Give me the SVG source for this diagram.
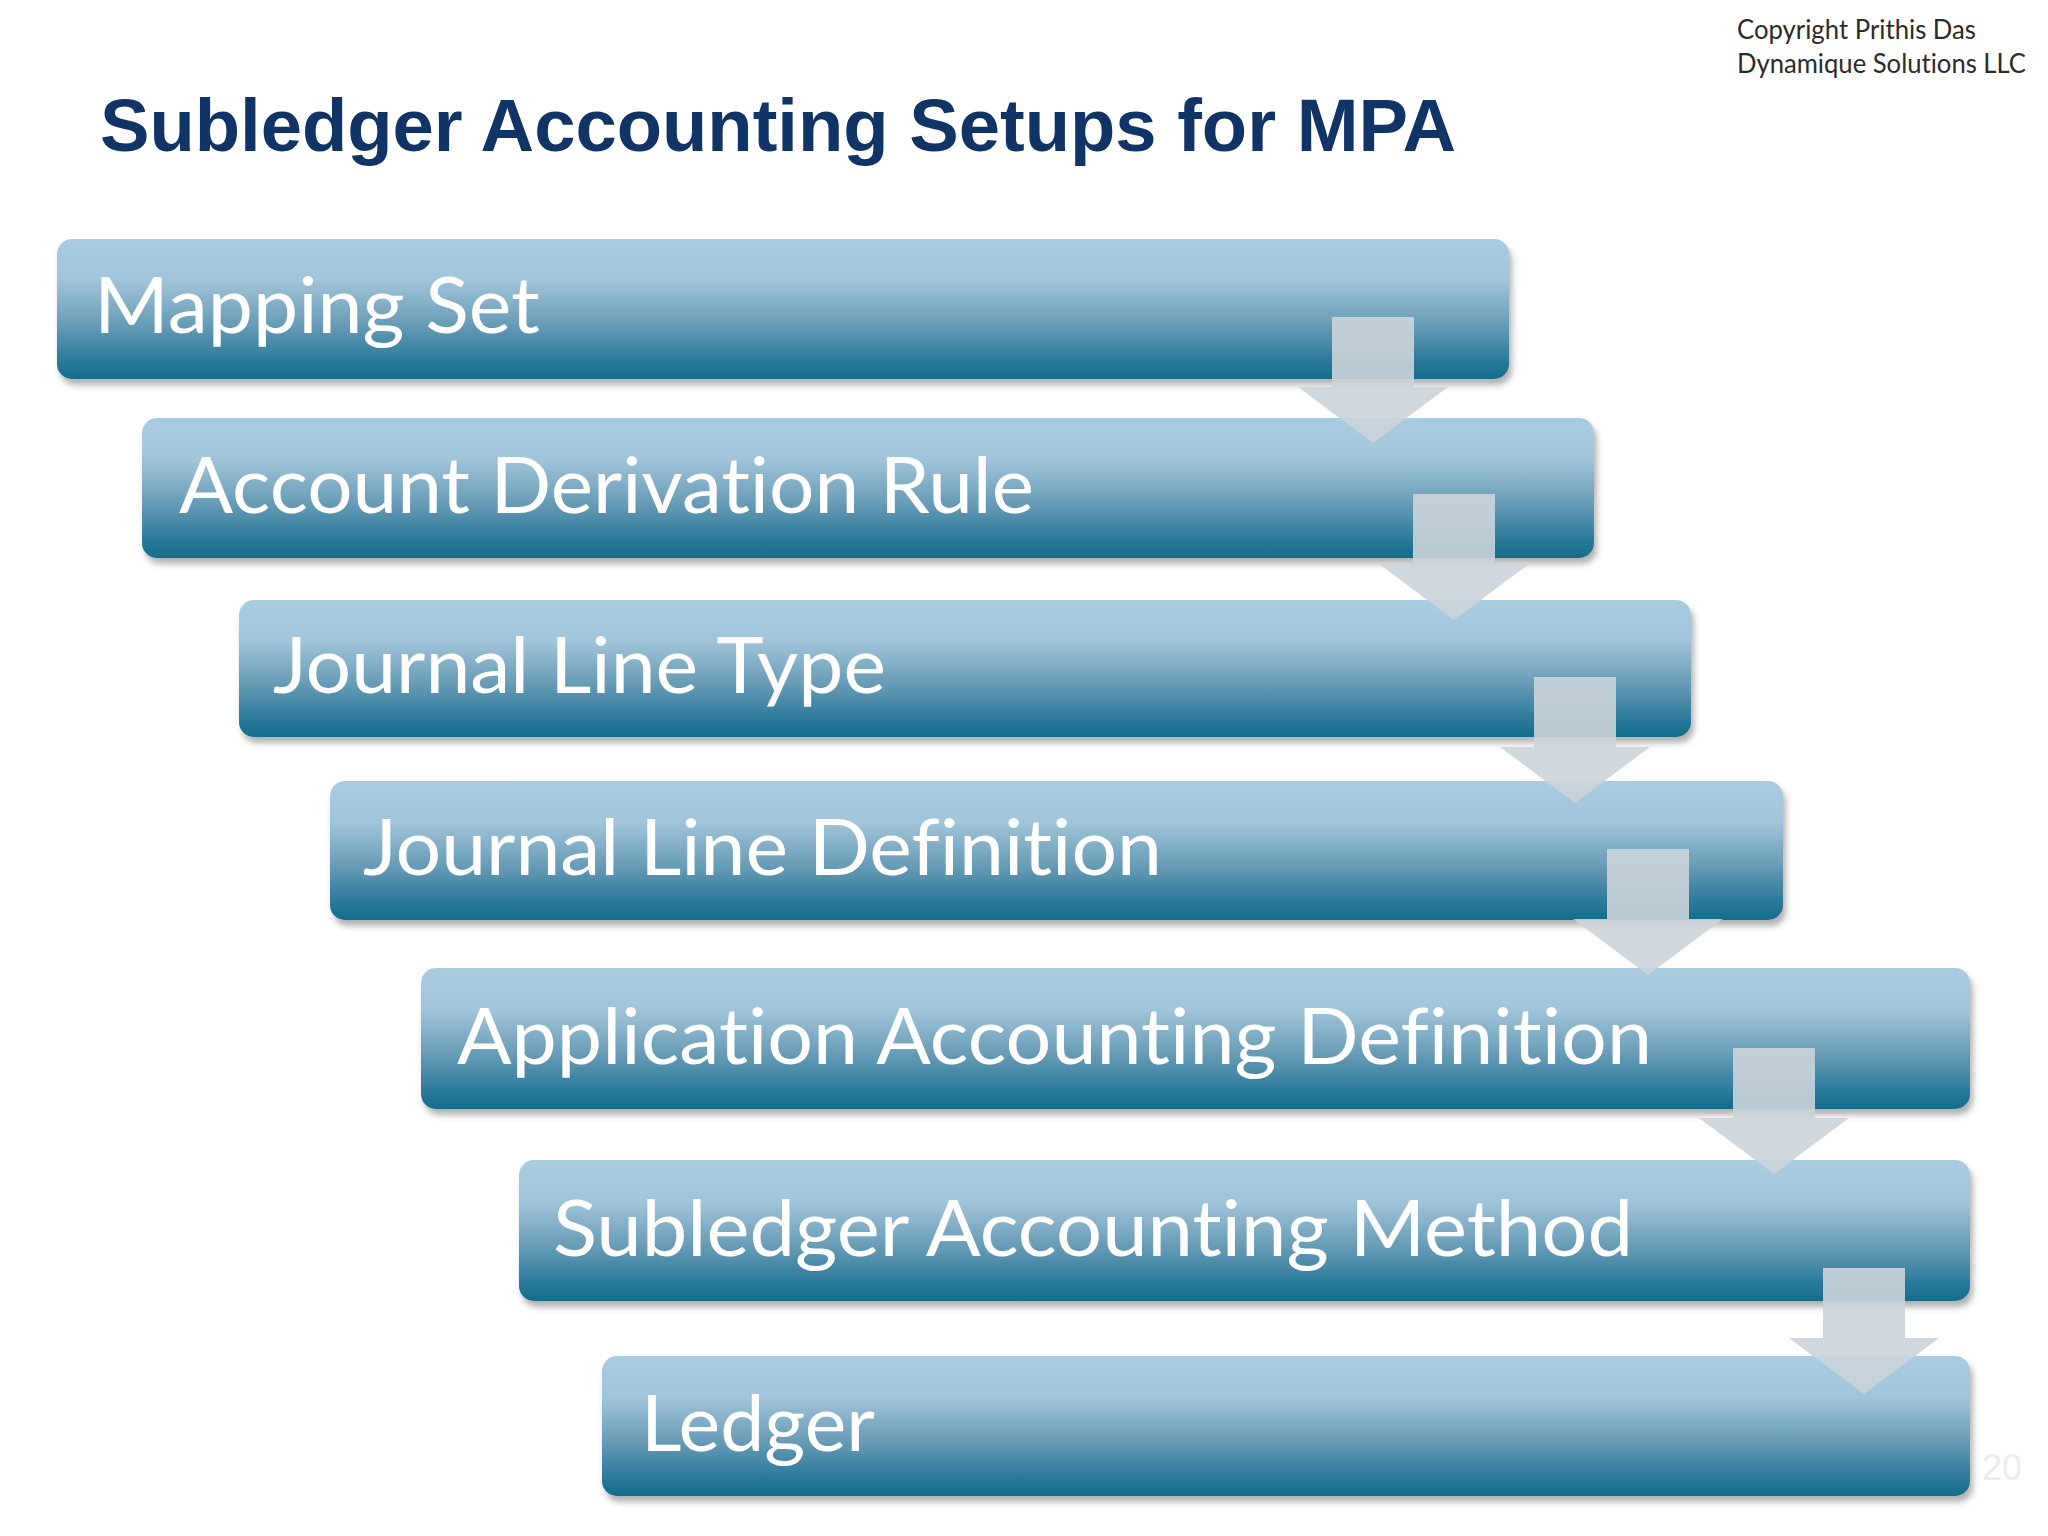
<svg xmlns="http://www.w3.org/2000/svg" width="2048" height="1536" viewBox="0 0 2048 1536">
<defs>
<linearGradient id="boxGrad" x1="0" y1="0" x2="0" y2="1">
<stop offset="0" stop-color="#a9cce0"/>
<stop offset="0.3" stop-color="#a0c4d9"/>
<stop offset="0.6" stop-color="#6a9db7"/>
<stop offset="0.85" stop-color="#2f7c9c"/>
<stop offset="1" stop-color="#136c8b"/>
</linearGradient>
<filter id="shadow" x="-5%" y="-20%" width="110%" height="145%">
<feDropShadow dx="3" dy="6" stdDeviation="3" flood-color="#555" flood-opacity="0.45"/>
</filter>
</defs>
<style>
.box{fill:url(#boxGrad);filter:url(#shadow);}
.lbl{font-family:Lato,"Open Sans","Liberation Sans",sans-serif;font-size:78px;fill:#ffffff;font-variant-ligatures:none;}
.arrow{fill:#cbd4da;fill-opacity:0.9;}
.title{font-family:"Liberation Sans",Arial,sans-serif;font-weight:bold;font-size:74px;fill:#113466;}
.copy{font-family:Lato,"Open Sans","Liberation Sans",sans-serif;font-size:27px;fill:#2b2b2b;font-variant-ligatures:none;}
</style>
<rect width="2048" height="1536" fill="#ffffff"/>
<text class="copy" x="1737" y="39" textLength="239" lengthAdjust="spacingAndGlyphs">Copyright Prithis Das</text>
<text class="copy" x="1737" y="73" textLength="289" lengthAdjust="spacingAndGlyphs">Dynamique Solutions LLC</text>
<text class="title" x="100" y="151" textLength="1356" lengthAdjust="spacingAndGlyphs">Subledger Accounting Setups for MPA</text>
<g id="node-mapping-set">
<rect class="box" x="57" y="239" width="1452" height="140" rx="15"/>
<text class="lbl" x="94" y="333" textLength="446" lengthAdjust="spacingAndGlyphs">Mapping Set</text>
</g>
<g id="node-account-derivation-rule">
<rect class="box" x="142" y="418" width="1452" height="140" rx="15"/>
<text class="lbl" x="179" y="513" textLength="855" lengthAdjust="spacingAndGlyphs">Account Derivation Rule</text>
</g>
<g id="node-journal-line-type">
<rect class="box" x="239" y="600" width="1452" height="137" rx="15"/>
<text class="lbl" x="273" y="693" textLength="613" lengthAdjust="spacingAndGlyphs">Journal Line Type</text>
</g>
<g id="node-journal-line-definition">
<rect class="box" x="330" y="781" width="1453" height="139" rx="15"/>
<text class="lbl" x="363" y="875" textLength="799" lengthAdjust="spacingAndGlyphs">Journal Line Definition</text>
</g>
<g id="node-application-accounting-definition">
<rect class="box" x="421" y="968" width="1549" height="141" rx="15"/>
<text class="lbl" x="457" y="1064" textLength="1195" lengthAdjust="spacingAndGlyphs">Application Accounting Definition</text>
</g>
<g id="node-subledger-accounting-method">
<rect class="box" x="519" y="1160" width="1451" height="141" rx="15"/>
<text class="lbl" x="553" y="1256" textLength="1080" lengthAdjust="spacingAndGlyphs">Subledger Accounting Method</text>
</g>
<g id="node-ledger">
<rect class="box" x="602" y="1356" width="1368" height="140" rx="15"/>
<text class="lbl" x="641" y="1451" textLength="234" lengthAdjust="spacingAndGlyphs">Ledger</text>
</g>
<g id="connectors">
<path class="arrow" d="M1332,317 H1414 V387 H1448 L1373,443 L1298,387 H1332 Z"/>
<path class="arrow" d="M1413,494 H1495 V564 H1529 L1454,620 L1379,564 H1413 Z"/>
<path class="arrow" d="M1534,677 H1616 V747 H1650 L1575,803 L1500,747 H1534 Z"/>
<path class="arrow" d="M1607,849 H1689 V919 H1723 L1648,975 L1573,919 H1607 Z"/>
<path class="arrow" d="M1733,1048 H1815 V1118 H1849 L1774,1174 L1699,1118 H1733 Z"/>
<path class="arrow" d="M1823,1268 H1905 V1338 H1939 L1864,1394 L1789,1338 H1823 Z"/>
</g>
<text x="1982" y="1480" font-family="'Liberation Sans',Arial,sans-serif" font-size="36" fill="#ededed">20</text>
</svg>
